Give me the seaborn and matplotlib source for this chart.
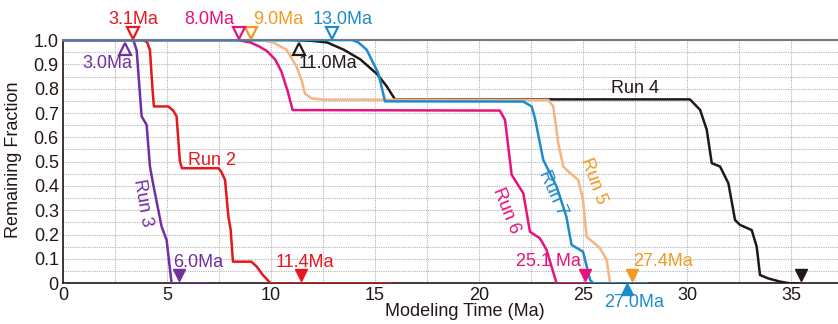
import numpy as np
import pandas as pd
import matplotlib
matplotlib.use("Agg")
import matplotlib.pyplot as plt
import seaborn as sns

# curve traces (time in Ma, remaining fraction)
run2_t = [0, 3.86, 4.05, 4.18, 4.3, 4.37, 5.06, 5.3, 5.46, 5.62, 5.72, 7.47, 7.6, 7.79, 7.95, 8.06, 8.17, 9.05, 9.3, 9.6, 9.98, 15.8]
run2_f = [1, 1, 0.99, 0.958, 0.8, 0.727, 0.727, 0.71, 0.686, 0.5, 0.473, 0.473, 0.46, 0.425, 0.274, 0.22, 0.089, 0.089, 0.07, 0.035, 0, 0]

run3_t = [0, 3.38, 3.54, 3.78, 4.02, 4.18, 4.34, 4.74, 4.98, 5.22, 7.0]
run3_f = [1, 1, 0.958, 0.686, 0.651, 0.48, 0.405, 0.233, 0.178, 0, 0]

run4_t = [0, 11.0, 11.9, 12.7, 13.5, 14.3, 15.1, 15.56, 15.96, 30.14, 30.63, 30.95, 31.19, 31.59, 31.99, 32.31, 32.55, 33.11, 33.35, 33.51, 33.91, 34.47, 34.95, 35.4]
run4_f = [1, 1, 0.997, 0.99, 0.96, 0.92, 0.86, 0.81, 0.756, 0.756, 0.713, 0.631, 0.494, 0.48, 0.411, 0.26, 0.24, 0.219, 0.151, 0.034, 0.02, 0.007, 0, 0]

run5_t = [0, 9.5, 10.1, 10.75, 11.23, 11.47, 11.63, 11.96, 12.5, 23.33, 23.57, 23.81, 24.05, 24.38, 24.77, 25.0, 25.17, 25.82, 26.14, 26.3]
run5_f = [1, 1, 0.99, 0.96, 0.89, 0.835, 0.78, 0.76, 0.755, 0.754, 0.727, 0.576, 0.48, 0.453, 0.425, 0.343, 0.192, 0.144, 0.096, 0]

run6_t = [0, 8.4, 9.0, 9.4, 9.8, 10.2, 10.5, 10.8, 11.04, 21.0, 21.25, 21.57, 22.13, 22.45, 22.93, 23.25, 23.73, 25.34]
run6_f = [1, 1, 0.99, 0.975, 0.955, 0.92, 0.87, 0.79, 0.712, 0.71, 0.672, 0.446, 0.37, 0.212, 0.185, 0.137, 0, 0]

run7_t = [0, 13.9, 14.2, 14.6, 15.16, 15.48, 22.13, 22.53, 22.69, 23.09, 23.41, 23.73, 24.2, 24.45, 25.0, 25.34, 25.5, 28.06]
run7_f = [1, 1, 0.99, 0.96, 0.863, 0.748, 0.747, 0.727, 0.679, 0.507, 0.453, 0.398, 0.274, 0.158, 0.13, 0.014, 0, 0]

runs = ["Run 2", "Run 3", "Run 4", "Run 5", "Run 6", "Run 7"]
line_colors = ["#E8161D", "#7030A0", "#231815", "#F5B482", "#E6127D", "#1E8BCB"]
text_colors = ["#E8161D", "#7030A0", "#231815", "#F29A1F", "#E6127D", "#1E8BCB"]

# start / end markers and their labels
start_t = [3.35, 3.0, 11.35, 9.05, 8.45, 12.95]
start_lbl = ["3.1Ma", "3.0Ma", "11.0Ma", "9.0Ma", "8.0Ma", "13.0Ma"]
end_t = [11.44, 5.58, 35.5, 27.36, 25.1, 27.13]
end_lbl = ["11.4Ma", "6.0Ma", "", "27.4Ma", "25.1 Ma", "27.0Ma"]

frames = []
for name, t, f in zip(runs, [run2_t, run3_t, run4_t, run5_t, run6_t, run7_t],
                      [run2_f, run3_f, run4_f, run5_f, run6_f, run7_f]):
    frames.append(pd.DataFrame({"time": t, "frac": f, "run": name}))
df = pd.concat(frames, ignore_index=True)

sns.set_style("white")
plt.rcParams["font.family"] = ["Liberation Sans", "DejaVu Sans"]

fig = plt.figure(figsize=(8.38, 3.24), dpi=100)
ax = fig.add_axes([0.0752, 0.1256, 0.9248, 0.7509])

sns.lineplot(data=df, x="time", y="frac", hue="run", palette=dict(zip(runs, line_colors)),
             sort=False, estimator=None, legend=False, linewidth=1.8, ax=ax, zorder=3)

ax.set_xlim(0, 37.26)
ax.set_ylim(0, 1.0)
ax.set_xticks(np.arange(0, 36, 5))
ax.set_xticks(np.arange(0, 37.5, 2.5), minor=True)
ax.set_yticks(np.arange(0, 1.01, 0.1))
ax.set_yticks(np.arange(0, 1.01, 0.05), minor=True)
ax.set_yticklabels(["0"] + ["%.1f" % v for v in np.arange(0.1, 1.01, 0.1)])
fs = 13
ax.tick_params(which="both", length=0, labelsize=fs, colors="#231815", pad=3)
ax.grid(which="both", color="#b4b4b4", linestyle=(0, (1, 1)), linewidth=0.8)

for s in ["left", "bottom"]:
    ax.spines[s].set_color("#231815")
    ax.spines[s].set_linewidth(1.2)
ax.spines["top"].set_color("#777777")
ax.spines["top"].set_linewidth(1.5)
ax.spines["right"].set_visible(False)

ax.set_xlabel("Modeling Time (Ma)", fontsize=fs, color="#231815")
ax.xaxis.set_label_coords(0.519, -0.08)
ax.set_ylabel("Remaining Fraction", fontsize=fs, color="#231815")
ax.yaxis.set_label_coords(-0.053, 0.507)

# start markers: hollow triangles
for i, t in enumerate(start_t):
    c = text_colors[i]
    if runs[i] in ("Run 3", "Run 4"):
        ax.plot(t, 0.965, marker="^", ms=9, mfc="none", mec=c, mew=1.6, clip_on=False, zorder=5)
    else:
        ax.plot(t, 1.03, marker="v", ms=9, mfc="none", mec=c, mew=1.6, clip_on=False, zorder=5)

ax.text(3.4, 1.085, start_lbl[0], color=text_colors[0], fontsize=fs, ha="center", va="center")
ax.text(2.15, 0.905, start_lbl[1], color=text_colors[1], fontsize=fs, ha="center", va="center")
ax.text(12.75, 0.905, start_lbl[2], color=text_colors[2], fontsize=fs, ha="center", va="center")
ax.text(10.35, 1.085, start_lbl[3], color=text_colors[3], fontsize=fs, ha="center", va="center")
ax.text(7.05, 1.085, start_lbl[4], color=text_colors[4], fontsize=fs, ha="center", va="center")
ax.text(13.45, 1.085, start_lbl[5], color=text_colors[5], fontsize=fs, ha="center", va="center")

# end markers: filled triangles
for i, t in enumerate(end_t):
    c = text_colors[i]
    if runs[i] == "Run 7":
        ax.plot(t, -0.025, marker="^", ms=8, color=c, clip_on=False, zorder=5)
    else:
        ax.plot(t, 0.033, marker="v", ms=8, color=c, clip_on=False, zorder=5)

ax.text(11.65, 0.085, end_lbl[0], color=text_colors[0], fontsize=fs, ha="center", va="center")
ax.text(6.52, 0.085, end_lbl[1], color=text_colors[1], fontsize=fs, ha="center", va="center")
ax.text(28.85, 0.09, end_lbl[3], color=text_colors[3], fontsize=fs, ha="center", va="center")
ax.text(23.35, 0.09, end_lbl[4], color=text_colors[4], fontsize=fs, ha="center", va="center")
ax.text(27.45, -0.08, end_lbl[5], color=text_colors[5], fontsize=fs, ha="center", va="center")

# run labels
ax.text(27.5, 0.8, "Run 4", color=text_colors[2], fontsize=fs, ha="center", va="center")
ax.text(7.15, 0.505, "Run 2", color=text_colors[0], fontsize=fs, ha="center", va="center")
ax.text(3.83, 0.33, "Run 3", color=text_colors[1], fontsize=fs, ha="center", va="center", rotation=-80)
ax.text(21.3, 0.30, "Run 6", color=text_colors[4], fontsize=fs, ha="center", va="center", rotation=-68)
ax.text(23.55, 0.37, "Run 7", color=text_colors[5], fontsize=fs, ha="center", va="center", rotation=-66)
ax.text(25.5, 0.42, "Run 5", color=text_colors[3], fontsize=fs, ha="center", va="center", rotation=-70)

fig.savefig("out.png", dpi=100)
